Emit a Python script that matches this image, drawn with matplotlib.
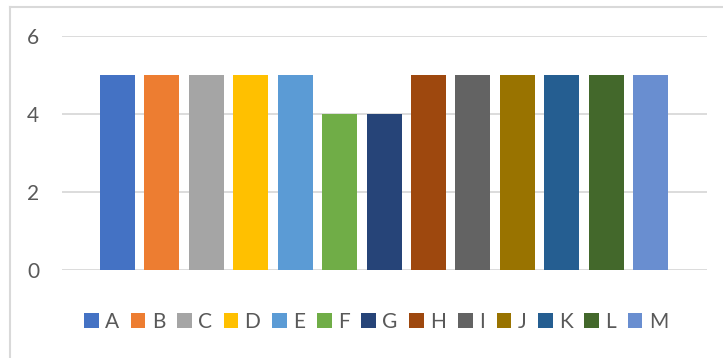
import matplotlib
matplotlib.use("Agg")
import matplotlib.pyplot as plt
from matplotlib.patches import Patch
from matplotlib.lines import Line2D

# Series names, values and Office-theme colours
series = ["A", "B", "C", "D", "E", "F", "G", "H", "I", "J", "K", "L", "M"]
values = [5, 5, 5, 5, 5, 4, 4, 5, 5, 5, 5, 5, 5]
colors = ["#4472C4", "#ED7D31", "#A5A5A5", "#FFC000", "#5B9BD5", "#70AD47",
          "#264478", "#9E480E", "#636363", "#997300", "#255E91", "#43682B",
          "#698ED0"]
yticks = [0, 2, 4, 6]

plt.rcParams["font.family"] = ["Lato", "DejaVu Sans"]
text_color = "#595959"
grid_color = "#D9D9D9"

W, H = 723, 358
fig = plt.figure(figsize=(W / 100, H / 100), dpi=100)
ax = fig.add_axes([62 / W, (H - 270) / H, (707 - 62) / W, (270 - 36) / H])

positions = list(range(len(series)))
ax.bar(positions, values, width=0.79, color=colors, zorder=3)

ax.set_xlim(-1.25, len(series) - 1 + 1.27)
ax.set_ylim(0, 6)
ax.set_yticks(yticks)
ax.set_yticklabels([str(t) for t in yticks])
ax.set_xticks([])
ax.yaxis.grid(True, color=grid_color, linewidth=1.3, zorder=0)
ax.tick_params(axis="y", length=0, pad=16.5, labelsize=15, labelcolor=text_color)
for s in ax.spines.values():
    s.set_visible(False)

handles = [Patch(facecolor=c, edgecolor="none") for c in colors]
fig.legend(handles, series, loc="center", bbox_to_anchor=(376 / W, (H - 322) / H),
           ncol=len(series), frameon=False, fontsize=15, labelcolor=text_color,
           handlelength=0.7, handleheight=0.7, handletextpad=0.3,
           columnspacing=0.57, borderpad=0, borderaxespad=0)

# Chart-area frame (top and left edges)
fig.add_artist(Line2D([10 / W, 1], [(H - 7) / H, (H - 7) / H], color=grid_color,
                      linewidth=1.5, transform=fig.transFigure))
fig.add_artist(Line2D([10 / W, 10 / W], [0, (H - 7) / H], color=grid_color,
                      linewidth=1.5, transform=fig.transFigure))

fig.savefig("out.png", dpi=100, facecolor="white")
